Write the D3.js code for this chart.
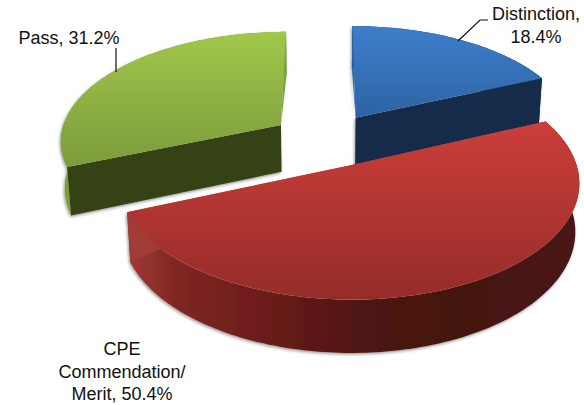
<!DOCTYPE html>
<html>
<head>
<meta charset="utf-8">
<script src="https://cdn.jsdelivr.net/npm/d3@7"></script>
<style>
  html, body { margin: 0; padding: 0; background: #fff; }
  text { font-family: "Liberation Sans", Arial, sans-serif; font-size: 18px; fill: #111; }
</style>
</head>
<body>
<div id="chart"></div>
<script>
//// ============ DATA ============ ////
var categories = ["Distinction", "CPE Commendation/ Merit", "Pass"];
var shares = [18.4, 50.4, 31.2];
var labelLines = [
    ["Distinction,", "18.4%"],
    ["CPE", "Commendation/", "Merit, 50.4%"],
    ["Pass, 31.2%"]
];

//// ============ LAYOUT ============ ////
var width = 584, height = 405;
var explode = 0.25;    // slice offset in pie radii
var persp = 0.13;      // how much nearer points grow
var sink = 0.015;      // how much the underside shrinks
var drop = 48;         // thickness of the pie

var xs = d3.scaleLinear().domain([0, 1]).range([326.1, 547.6]);
var ys = d3.scaleLinear().domain([0, 1]).range([140, 249]);

var topGrad = [["#3c7ecb", "#2e63a3"], ["#cc3e3a", "#952c29"], ["#a1c74b", "#7c9b3b"]];
// start and end cut face of each slice
var faceFill = [["#2e63a3", "#172c4a"], ["#4e1815", "#a03a35"], ["#364218", "#7d9e3a"]];
// which cut face looks at the viewer, -1 for none
var frontFace = [1, -1, 0];
var wallFill = ["#172c4a", "url(#wall-red)", "#7d9e3a"];
var redWall = [
    [0, "#a03a35"], [0.11, "#7f2623"], [0.29, "#6d1d1a"],
    [0.51, "#4f1512"], [0.73, "#431210"], [0.95, "#4a1714"]
];

var labelPos = [
    { x: 536, y: 20 },
    { x: 122, y: 355 },
    { x: 69, y: 44 }
];
var leaders = [
    [[488, 20], [480, 20], [458, 41]],
    [],
    [[116, 48], [116, 72]]
];

// red goes last, it sits in front of the other two
var paintOrder = [2, 0, 1];

//// ============ PROJECTION ============ ////
function project(gx, gy, under) {
    var w = 1 - persp * gy + (under ? sink : 0);
    return [xs(gx / w), ys(gy / w) + (under ? drop / w : 0)];
}

function rimPoints(d, under) {
    var ox = explode * Math.sin(d.mid), oy = -explode * Math.cos(d.mid);
    var n = Math.ceil((d.endAngle - d.startAngle) / 0.02);
    return d3.range(n + 1).map(function(i) {
        var t = d.startAngle + (d.endAngle - d.startAngle) * i / n;
        return project(ox + Math.sin(t), oy - Math.cos(t), under);
    });
}

function apexPoint(d, under) {
    return project(explode * Math.sin(d.mid), -explode * Math.cos(d.mid), under);
}

//// ============ MAIN ============ ////
var svg = d3.select("#chart").append("svg")
    .attr("width", width)
    .attr("height", height)
    .style("display", "block");

var defs = svg.append("defs");

topGrad.forEach(function(c, i) {
    var g = defs.append("linearGradient")
        .attr("id", "top-" + i)
        .attr("x1", "0%").attr("x2", "0%")
        .attr("y1", "0%").attr("y2", "100%");
    g.append("stop").attr("offset", "0%").attr("stop-color", c[0]);
    g.append("stop").attr("offset", "100%").attr("stop-color", c[1]);
});

defs.append("linearGradient")
    .attr("id", "wall-red")
    .attr("x1", "0%").attr("x2", "100%")
    .attr("y1", "0%").attr("y2", "0%")
    .selectAll("stop")
    .data(redWall)
    .enter().append("stop")
    .attr("offset", function(d) { return d[0] * 100 + "%"; })
    .attr("stop-color", function(d) { return d[1]; });

var shadow = defs.append("filter")
    .attr("id", "soft")
    .attr("x", "-10%").attr("y", "-10%")
    .attr("width", "120%").attr("height", "120%");
shadow.append("feDropShadow")
    .attr("dx", -1).attr("dy", 1.5)
    .attr("stdDeviation", 1.5)
    .attr("flood-color", "#000")
    .attr("flood-opacity", 0.4);

var slices = d3.pie().sort(null)(shares);
slices.forEach(function(d) { d.mid = (d.startAngle + d.endAngle) / 2; });

var line = d3.line();

paintOrder.forEach(function(i) {
    var d = slices[i];
    var g = svg.append("g").attr("class", "slice").attr("aria-label", categories[i]);
    var topRim = rimPoints(d, false);
    var lowRim = rimPoints(d, true);
    var apex = apexPoint(d, false);
    var apexLow = apexPoint(d, true);

    var under = g.append("g").attr("filter", "url(#soft)");

    // outer wall
    under.append("path")
        .attr("d", line(topRim.concat(lowRim.slice().reverse())) + "Z")
        .attr("fill", wallFill[i]);

    // the two cut faces, back facing ones stop at the apex so no sliver shows below it
    [[topRim[0], lowRim[0]], [topRim[topRim.length - 1], lowRim[lowRim.length - 1]]].forEach(function(edge, k) {
        var pts = [apex, edge[0], edge[1]];
        if (frontFace[i] === k) pts.push(apexLow);
        under.append("path")
            .attr("d", line(pts) + "Z")
            .attr("fill", faceFill[i][k]);
    });

    // top surface
    g.append("path")
        .attr("d", line([apex].concat(topRim)) + "Z")
        .attr("fill", "url(#top-" + i + ")");
});

//// ============ LABELS ============ ////
var leaderLine = svg.append("g");
leaders.forEach(function(pts) {
    if (!pts.length) return;
    leaderLine.append("path")
        .attr("d", line(pts))
        .attr("fill", "none")
        .attr("stroke", "#111")
        .attr("stroke-width", 1.2);
});

labelLines.forEach(function(lines, i) {
    var t = svg.append("text")
        .attr("text-anchor", "middle");
    lines.forEach(function(s, k) {
        t.append("tspan")
            .attr("x", labelPos[i].x)
            .attr("y", labelPos[i].y + k * 22.7)
            .text(s);
    });
});
</script>
</body>
</html>
